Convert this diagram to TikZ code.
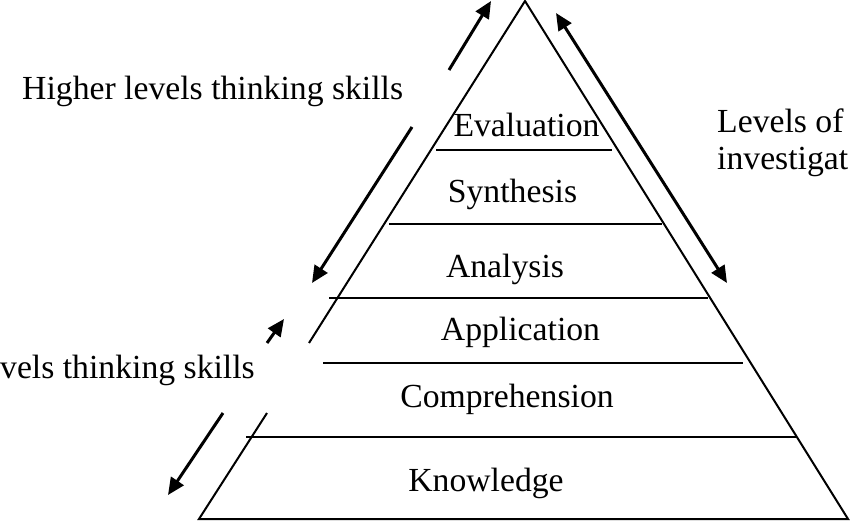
\documentclass[tikz,border=0pt]{standalone}
\usepackage{fontspec}
\setmainfont{Liberation Serif}
\usetikzlibrary{arrows.meta}
\begin{document}
\begin{tikzpicture}[x=1pt,y=-1pt,
  edge/.style={line width=2pt},
  layer/.style={line width=2pt},
  arr/.style={line width=3pt,-{Triangle[length=17pt,width=15pt]}},
  dblarr/.style={line width=3pt,{Triangle[length=17pt,width=15pt]}-{Triangle[length=17pt,width=15pt]}},
  lbl/.style={font=\fontsize{33.7}{40}\selectfont,inner sep=0pt}]
\useasboundingbox (0,0) rectangle (850,521);
\clip (0,0) rectangle (850,521);
% triangle corners
\coordinate (apex) at (525,1);
\coordinate (bl) at (199,519);
\coordinate (br) at (848,519);
\coordinate (gapTop) at (309,343);
\coordinate (gapBot) at (267,413);
% triangle
\draw[edge] (gapTop) -- (apex) -- (br) -- (bl) -- (gapBot);
% layer lines
\draw[layer] (436,150) -- (612,150);
\draw[layer] (389,224) -- (662,224);
\draw[layer] (329,298) -- (708,298);
\draw[layer] (323,363) -- (743,363);
\draw[layer] (246,437) -- (796,437);
% labels inside
\node[lbl,anchor=base] (eval) at (526.5,137) {Evaluation};
\node[lbl,anchor=base] (syn) at (512.5,203) {Synthesis};
\node[lbl,anchor=base] (ana) at (505,277) {Analysis};
\node[lbl,anchor=base] (app) at (520.5,340) {Application};
\node[lbl,anchor=base] (comp) at (507,407) {Comprehension};
\node[lbl,anchor=base] (know) at (486,491) {Knowledge};
% side labels
\node[lbl,anchor=base west] (high) at (22,100) {Higher levels thinking skills};
\node[lbl,anchor=base east] (low) at (255,378) {vels thinking skills};
\node[lbl,anchor=base west] (inv) at (717,133) {Levels of};
\node[lbl,anchor=base west] (inv2) at (717,170) {investigat};
% arrows, upper left
\coordinate (hA) at (491,1);
\coordinate (hB) at (449,70);
\coordinate (hC) at (412,127);
\coordinate (hD) at (312,283);
\draw[arr] (hB) -- (hA);
\draw[arr] (hC) -- (hD);
% arrows, lower left
\coordinate (lA) at (284,319);
\coordinate (lB) at (267,343);
\coordinate (lC) at (223,413);
\coordinate (lD) at (168,495);
\draw[arr] (lB) -- (lA);
\draw[arr] (lC) -- (lD);
% right arrow
\coordinate (rA) at (556,13);
\coordinate (rB) at (727,283);
\draw[dblarr] (rA) -- (rB);
\end{tikzpicture}
\end{document}
